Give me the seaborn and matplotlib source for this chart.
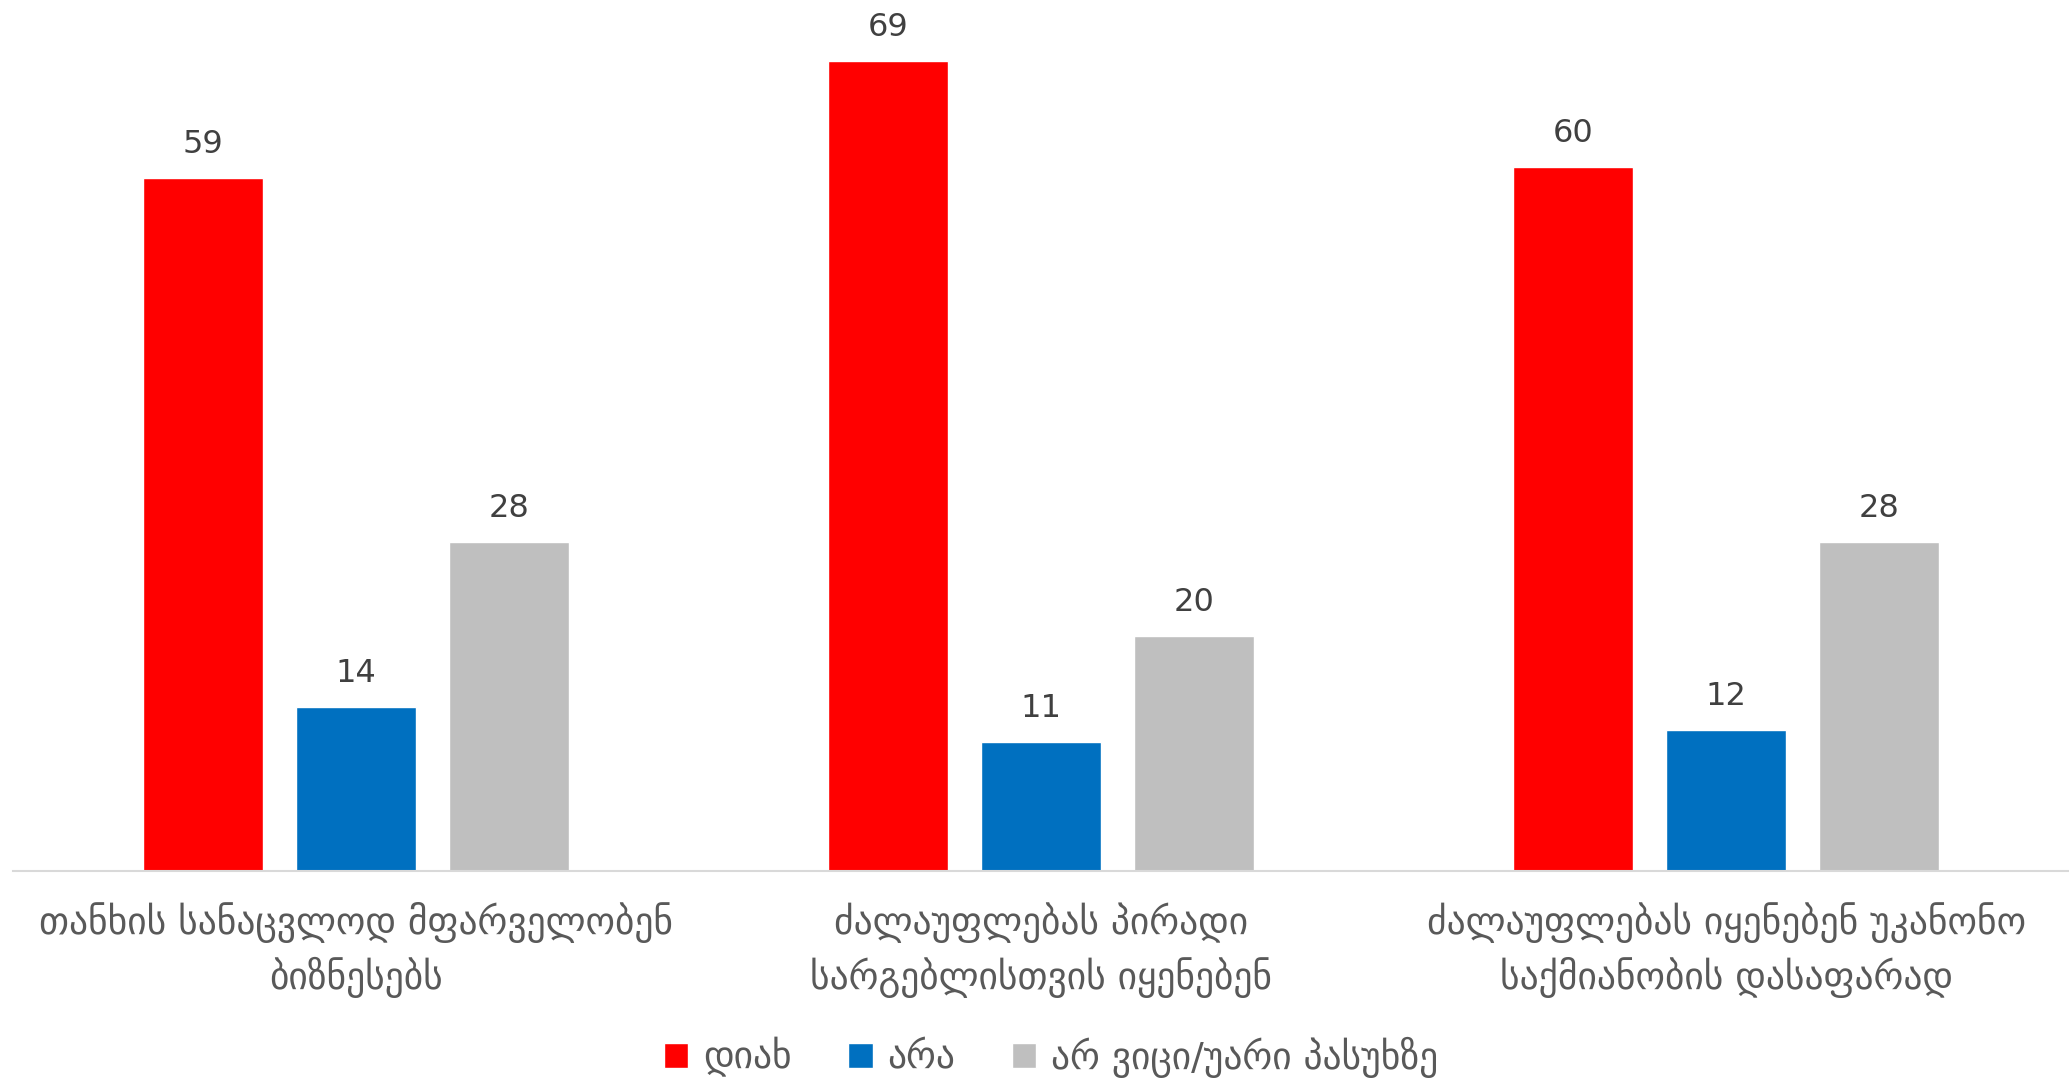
import seaborn as sns
import matplotlib.pyplot as plt
import pandas as pd

sns.set_style("white")
plt.rcParams['font.family'] = ['DejaVu Sans']

# data
categories = [
    "თანხის სანაცვლოდ მფარველობენ\nბიზნესებს",
    "ძალაუფლებას პირადი\nსარგებლისთვის იყენებენ",
    "ძალაუფლებას იყენებენ უკანონო\nსაქმიანობის დასაფარად",
]
answers = ["დიახ", "არა", "არ ვიცი/უარი პასუხზე"]
yes_vals = [59, 69, 60]
no_vals = [14, 11, 12]
dk_vals = [28, 20, 28]

colors = ['#FF0000', '#0070C0', '#BFBFBF']

rows = []
for ans, vals in zip(answers, [yes_vals, no_vals, dk_vals]):
    for cat, v in zip(categories, vals):
        rows.append({"Category": cat, "Answer": ans, "Value": v})
df = pd.DataFrame(rows)

fig = plt.figure(figsize=(20.69, 10.81), dpi=100)
ax = fig.add_axes([0.0063, 0.194, 0.9937, 0.804])
sns.barplot(data=df, x='Category', y='Value', hue='Answer', palette=colors,
            width=0.67, gap=0.215, ax=ax, saturation=1)

# value labels above bars
for c in ax.containers:
    ax.bar_label(c, fmt='%.0f', padding=13, fontsize=23, color='#404040')

ax.set_ylim(0, 74)
ax.set_xlim(-0.5, 2.5)
ax.set_xlabel('')
ax.set_ylabel('')
ax.set_yticks([])
for side in ['left', 'right', 'top']:
    ax.spines[side].set_visible(False)
ax.spines['bottom'].set_color('#D9D9D9')
ax.spines['bottom'].set_linewidth(1.5)
ax.tick_params(axis='x', length=0, pad=22, labelsize=27, labelcolor='#595959')
for t in ax.get_xticklabels():
    t.set_linespacing(1.45)

handles, labels = ax.get_legend_handles_labels()
ax.get_legend().remove()
fig.legend(handles, labels, loc='lower center', bbox_to_anchor=(0.508, -0.028),
           ncol=3, frameon=False, fontsize=27, labelcolor='#595959',
           handlelength=0.65, handleheight=0.65, handletextpad=0.4,
           columnspacing=1.5)

fig.savefig('out.png', dpi=100)
